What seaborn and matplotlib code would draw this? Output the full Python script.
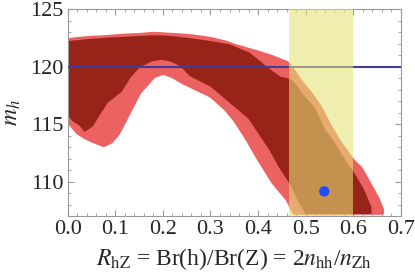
import matplotlib
matplotlib.use('Agg')
import matplotlib.pyplot as plt
import seaborn as sns
import pandas as pd
from matplotlib.ticker import MultipleLocator

# outer (light red) region boundary
x_outer = [0.0, 0.01, 0.02, 0.035, 0.05, 0.075, 0.09, 0.105, 0.125, 0.15, 0.18, 0.2, 0.22,
           0.24, 0.265, 0.3, 0.33, 0.35, 0.375, 0.4, 0.43, 0.46, 0.475, 0.49, 0.51, 0.53,
           0.55, 0.57, 0.6, 0.615, 0.63, 0.65, 0.66]
top_outer = [122.4, 122.45, 122.5, 122.55, 122.6, 122.65, 122.7, 122.75, 122.8, 122.85, 122.95,
             122.9, 122.85, 122.8, 122.7, 122.5, 122.2, 121.9, 121.6, 121.3, 120.9, 120.4,
             119.6, 118.7, 117.7, 116.5, 114.9, 113.5, 111.8, 111.2, 110.1, 108.6, 107.6]
bot_outer = [115.3, 114.8, 114.3, 113.9, 113.6, 113.2, 113.5, 114.2, 115.8, 117.8, 119.2,
             119.5, 119.2, 118.7, 118.2, 117.5, 116.4, 115.4, 113.8, 112.0, 110.0, 108.5,
             107.3, 107.3, 107.3, 107.3, 107.3, 107.3, 107.3, 107.3, 107.3, 107.3, 107.3]

# inner (dark red) region boundary
x_inner = [0.0, 0.01, 0.025, 0.035, 0.05, 0.068, 0.082, 0.11, 0.13, 0.15, 0.175, 0.195, 0.215,
           0.236, 0.257, 0.3, 0.34, 0.38, 0.425, 0.445, 0.467, 0.48, 0.49, 0.5, 0.516, 0.537,
           0.558, 0.58, 0.6, 0.62, 0.635]
top_inner = [122.2, 122.25, 122.3, 122.35, 122.4, 122.45, 122.5, 122.55, 122.6, 122.65, 122.7,
             122.7, 122.65, 122.55, 122.45, 122.2, 121.9, 121.2, 119.7, 119.1, 118.9, 118.3,
             117.7, 117.2, 116.5, 114.6, 113.4, 111.9, 110.7, 109.3, 107.8]
bot_inner = [115.9, 115.4, 115.0, 114.5, 114.9, 116.1, 117.0, 117.9, 119.2, 120.1, 120.6,
             120.75, 120.6, 120.2, 119.3, 118.4, 117.0, 115.6, 112.8, 111.3, 109.9, 108.8,
             108.0, 107.3, 107.3, 107.3, 107.3, 107.3, 107.3, 107.3, 107.3]

mh_line = 120.0
band = (0.466, 0.6)
best = pd.DataFrame({'R': [0.539], 'mh': [109.15]})

sns.set_theme(style='ticks')
plt.rcParams['font.family'] = ['Liberation Serif', 'DejaVu Serif']
plt.rcParams['mathtext.fontset'] = 'stix'

fig = plt.figure(figsize=(4.15, 2.75), dpi=100)
ax = fig.add_axes([0.163, 0.2145, 0.803, 0.751])

ax.fill_between(x_outer, bot_outer, top_outer, color='#ec6262', lw=2.5, ec='#ec6262',
                joinstyle='round', zorder=1)
ax.fill_between(x_inner, bot_inner, top_inner, color='#982419', lw=1.5, ec='#982419',
                joinstyle='round', zorder=2)
ax.axhline(mh_line, color='#3d3d9c', lw=1.5, zorder=3)
ax.axvspan(band[0], band[1], color='#e5e275', alpha=0.58, lw=0, zorder=4)
sns.scatterplot(data=best, x='R', y='mh', color='#1f4cff', s=55, edgecolor='none',
                zorder=5, ax=ax)

ax.set_xlim(0, 0.7)
ax.set_ylim(107, 125)
ax.xaxis.set_major_locator(MultipleLocator(0.1))
ax.xaxis.set_minor_locator(MultipleLocator(0.02))
ax.yaxis.set_major_locator(MultipleLocator(5))
ax.yaxis.set_minor_locator(MultipleLocator(1))
ax.xaxis.set_major_formatter(matplotlib.ticker.FormatStrFormatter('%.1f'))
ax.tick_params(which='both', direction='in', top=True, right=True, color='#999999',
               labelsize=16, pad=3)
ax.tick_params(which='major', length=4, width=0.8)
ax.tick_params(which='minor', length=2, width=0.6)
for s in ax.spines.values():
    s.set_color('#999999')
    s.set_linewidth(0.8)

ax.set_xlabel(r'$R_{\rm hZ}$ = Br(h)/Br(Z) = 2$n_{\rm hh}$/$n_{\rm Zh}$', fontsize=17, labelpad=5)
ax.set_ylabel(r'$m_h$', fontsize=17, labelpad=5)

fig.savefig('out.png', dpi=100)
